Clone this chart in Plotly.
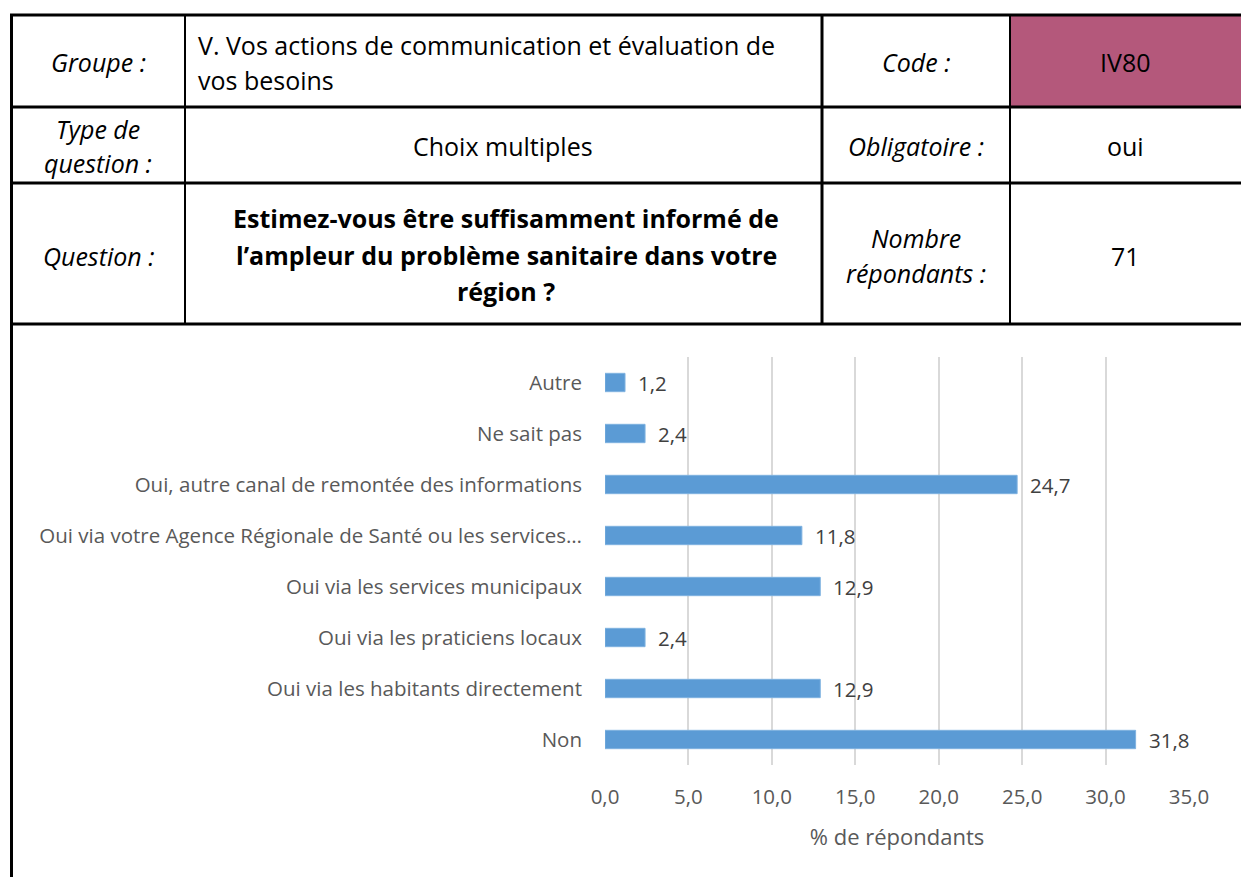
import plotly.graph_objects as go

# Survey results (% of respondents), listed top to bottom
categories = [
    "Autre",
    "Ne sait pas",
    "Oui, autre canal de remontée des informations",
    "Oui via votre Agence Régionale de Santé ou les services…",
    "Oui via les services municipaux",
    "Oui via les praticiens locaux",
    "Oui via les habitants directement",
    "Non",
]
values = [1.2, 2.4, 24.7, 11.8, 12.9, 2.4, 12.9, 31.8]
x_ticks = [0, 5, 10, 15, 20, 25, 30, 35]

W, H = 1241, 877
FONT = "Open Sans"
BAR_COLOR = "#5B9BD5"
GRID = "#D9D9D9"
LABEL = "#595959"


def px(x):
    return x / W


def py(y):
    return 1 - y / H


fig = go.Figure()
fig.add_trace(go.Bar(
    x=values,
    y=categories,
    orientation="h",
    width=0.36,
    marker=dict(color=BAR_COLOR, line=dict(color="#7FB2E0", width=1)),
    hoverinfo="x+y",
))

# value labels next to each bar
annotations = []
for c, v in zip(categories, values):
    annotations.append(dict(
        x=v, y=c, xref="x", yref="y",
        text=f"{v:.1f}".replace(".", ","),
        showarrow=False, xanchor="left", yanchor="middle", xshift=11,
        font=dict(family=FONT, size=20.5, color="#404040"),
    ))

# header table
shapes = []
BLACK = "#000000"
shapes.append(dict(type="rect", xref="paper", yref="paper",
                   x0=px(1011), x1=px(1241), y0=py(106), y1=py(16),
                   fillcolor="#B4587B", line=dict(width=0), layer="below"))
for yline in [15, 107, 183, 324]:
    shapes.append(dict(type="line", xref="paper", yref="paper",
                       x0=px(10), x1=px(1241), y0=py(yline), y1=py(yline),
                       line=dict(color=BLACK, width=3)))
for xline, w in [(185, 2), (822, 3), (1010, 2)]:
    shapes.append(dict(type="line", xref="paper", yref="paper",
                       x0=px(xline), x1=px(xline), y0=py(15), y1=py(324),
                       line=dict(color=BLACK, width=w)))
shapes.append(dict(type="line", xref="paper", yref="paper",
                   x0=px(11.5), x1=px(11.5), y0=py(14), y1=py(877),
                   line=dict(color=BLACK, width=3)))


def cell(text, x, y, anchor="center", italic=False, bold=False, size=25):
    if bold:
        text = f"<b>{text}</b>"
    if italic:
        text = f"<i>{text}</i>"
    annotations.append(dict(
        x=px(x), y=py(y), xref="paper", yref="paper", text=text,
        showarrow=False, xanchor=anchor, yanchor="middle",
        font=dict(family=FONT, size=size, color="#000000"),
    ))


cell("Groupe :", 98, 62, italic=True)
cell("V. Vos actions de communication et évaluation de", 196, 45, anchor="left")
cell("vos besoins", 196, 80, anchor="left")
cell("Code :", 916, 62, italic=True)
cell("IV80", 1125, 62)

cell("Type de", 98, 129, italic=True)
cell("question :", 98, 163, italic=True)
cell("Choix multiples", 503, 146)
cell("Obligatoire :", 916, 146, italic=True)
cell("oui", 1125, 146)

cell("Question :", 98, 256, italic=True)
cell("Estimez-vous être suffisamment informé de", 506, 218, bold=True, size=25)
cell("l’ampleur du problème sanitaire dans votre", 506, 255, bold=True, size=25)
cell("région ?", 506, 291, bold=True, size=25)
cell("Nombre", 916, 238, italic=True)
cell("répondants :", 916, 273, italic=True)
cell("71", 1125, 256)

fig.update_layout(
    width=W, height=H,
    margin=dict(l=0, r=0, t=0, b=0),
    paper_bgcolor="white", plot_bgcolor="white",
    showlegend=False,
    separators=", ",
    shapes=shapes,
    annotations=annotations,
    bargap=0.64,
    xaxis=dict(
        domain=[px(605), px(1189)],
        range=[0, 35],
        automargin=False,
        tickvals=x_ticks,
        tickformat=".1f",
        showgrid=True, gridcolor=GRID, gridwidth=1.5,
        zeroline=False, showline=False,
        ticks="", ticklabelstandoff=17,
        tickfont=dict(family=FONT, size=20.5, color=LABEL),
        title=dict(text="% de répondants", standoff=21,
                   font=dict(family=FONT, size=22, color=LABEL)),
    ),
    yaxis=dict(
        domain=[py(765), py(357)],
        automargin=False,
        categoryorder="array",
        categoryarray=categories[::-1],
        showgrid=False, zeroline=False, showline=False,
        ticks="", ticklabelstandoff=22,
        tickfont=dict(family=FONT, size=20.5, color=LABEL),
    ),
)

fig.write_html("out.html")
